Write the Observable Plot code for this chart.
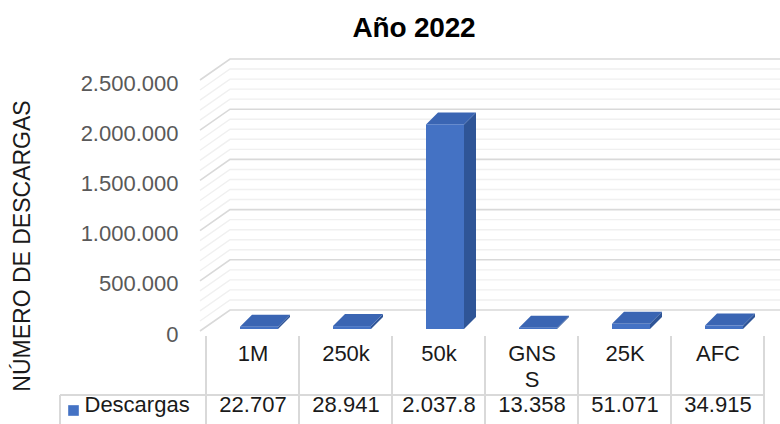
<!DOCTYPE html>
<html>
<head>
<meta charset="utf-8">
<script src="https://cdn.jsdelivr.net/npm/d3@7"></script>
<script src="https://cdn.jsdelivr.net/npm/@observablehq/plot@0.6"></script>
<style>
  html, body { margin: 0; padding: 0; background: #fff; }
  #wrap { position: relative; width: 780px; height: 424px; overflow: hidden; font-family: Arial, "Liberation Sans", sans-serif; }
  #title { position: absolute; left: 48px; top: 14px; width: 732px; text-align: center; font-size: 28px; line-height: 28px; font-weight: bold; color: #000; letter-spacing: -0.2px; }
  #chart { position: absolute; left: 0; top: 0; }
</style>
</head>
<body>
<div id="wrap">
  <div id="chart"></div>
  <div id="title">Año 2022</div>
</div>
<script>
// ---- data ----
const categories = ["1M", "250k", "50k", "GNSS", "25K", "AFC"];
const catLabels = ["1M", "250k", "50k", "GNS\nS", "25K", "AFC"];
const values = [22707, 28941, 2037800, 13358, 51071, 34915];
const seriesName = "Descargas";
const yTicks = [0, 500000, 1000000, 1500000, 2000000, 2500000];
const yTitle = "NÚMERO DE DESCARGAS";

const fmtLocale = d3.formatLocale({decimal: ",", thousands: ".", grouping: [3], currency: ["", " €"]});
const fmt = fmtLocale.format(",");

const rows = categories.map((c, i) => ({cat: c, value: values[i], label: catLabels[i]}));

const FONT = 'Arial, "Liberation Sans", sans-serif';
const BLUE = "#4472c4", BLUE_SIDE = "#2f5597", BLUE_TOP = "#3a65b3";
const WALL_DX = 30, WALL_DY = -21;   // depth of back wall
const BAR_DX = 12, BAR_DY = -12;     // depth of bars
const BAR_IN_L = 34, BAR_IN_R = 21, BAR_SHIFT = -2;
const SIDE_X = -4;                   // front edge of side wall relative to frame left

function bw(x) { return typeof x.bandwidth === "function" ? x.bandwidth() : x.bandwidth; }

// back wall, side wall and floor gridlines
function walls(index, scales, values_, dims) {
  const y = scales.y;
  const left = dims.marginLeft + SIDE_X;
  const g = d3.create("svg:g").attr("fill", "none");
  const minor = d3.range(yTicks[0], yTicks[yTicks.length - 1] + 1, (yTicks[1] - yTicks[0]) / 5);
  for (const major of [false, true]) {
    const vals = major ? yTicks : minor.filter(v => !yTicks.includes(v));
    for (const v of vals) {
      const yf = y(v), yb = y(v) + WALL_DY;
      g.append("path")
        .attr("d", `M${left},${yf}L${left + WALL_DX},${yb}L${dims.width},${yb}`)
        .attr("stroke", major ? "#d9d9d9" : "#f0f0f0")
        .attr("stroke-width", major ? 1.6 : 1.4);
    }
  }
  return g.node();
}

// side and top faces of the 3D columns
function barDepth(index, scales, values_, dims) {
  const x = scales.x, y = scales.y, w = bw(x);
  const g = d3.create("svg:g");
  rows.forEach(r => {
    const x0 = x(r.cat) + BAR_IN_L, x1 = x(r.cat) + w - BAR_IN_R;
    const top = y(r.value) + BAR_SHIFT, base = y(0) + BAR_SHIFT;
    g.append("path")
      .attr("d", `M${x1},${top}L${x1 + BAR_DX},${top + BAR_DY}L${x1 + BAR_DX},${base + BAR_DY}L${x1},${base}Z`)
      .attr("fill", BLUE_SIDE);
    g.append("path")
      .attr("d", `M${x0},${top}L${x0 + BAR_DX},${top + BAR_DY}L${x1 + BAR_DX},${top + BAR_DY}L${x1},${top}Z`)
      .attr("fill", BLUE_TOP);
  });
  return g.node();
}

// data table grid lines
function tableGrid(index, scales, values_, dims) {
  const x = scales.x, w = bw(x);
  const g = d3.create("svg:g").attr("stroke", "#d9d9d9").attr("stroke-width", 2);
  const yTop = dims.height - dims.marginBottom + 5;
  const yRow = dims.height - dims.marginBottom + 64;
  const edges = categories.map(c => x(c)).concat([x(categories[categories.length - 1]) + w]);
  edges.forEach(e => g.append("line").attr("x1", e).attr("x2", e).attr("y1", yTop).attr("y2", dims.height));
  g.append("line").attr("x1", 60).attr("x2", edges[edges.length - 1]).attr("y1", yRow).attr("y2", yRow);
  g.append("line").attr("x1", 60).attr("x2", 60).attr("y1", yRow).attr("y2", dims.height);
  return g.node();
}

const chart = Plot.plot({
  width: 780,
  height: 424,
  marginLeft: 204,
  marginRight: 14,
  marginTop: 80,
  marginBottom: 93,
  style: {fontFamily: FONT, overflow: "visible", background: "transparent"},
  x: {type: "band", domain: categories, padding: 0, axis: null},
  y: {domain: [0, 2500000], axis: null},
  marks: [
    walls,
    tableGrid,
    barDepth,
    Plot.barY(rows, {x: "cat", y: "value", fill: BLUE, insetLeft: BAR_IN_L, insetRight: BAR_IN_R, dy: BAR_SHIFT}),
    // y tick labels
    Plot.text(yTicks, {y: d => d, text: d => fmt(d), frameAnchor: "left", dx: -26, dy: 3, textAnchor: "end", fontSize: 22, fill: "#595959"}),
    // y title
    Plot.text([yTitle], {frameAnchor: "left", dx: -182, dy: 40, rotate: -90, textAnchor: "middle", fontSize: 23, fill: "#1a1a1a"}),
    // table: categories
    Plot.text(rows, {x: "cat", text: "label", frameAnchor: "bottom", dy: 12, lineAnchor: "top", lineHeight: 1.15, fontSize: 22, fill: "#1a1a1a"}),
    // table: values (cell clips the long value)
    Plot.text(rows, {x: "cat", text: d => fmt(d.value).slice(0, 7), frameAnchor: "bottom", dy: 80, fontSize: 22, fill: "#1a1a1a"}),
    // legend key
    Plot.dot([seriesName], {frameAnchor: "bottom-left", dx: -131, dy: 79, symbol: "square", r: 6, fill: BLUE, stroke: null}),
    Plot.text([seriesName], {frameAnchor: "bottom-left", dx: -120, dy: 80, textAnchor: "start", fontSize: 22, fill: "#1a1a1a"})
  ]
});
document.getElementById("chart").appendChild(chart);
</script>
</body>
</html>
